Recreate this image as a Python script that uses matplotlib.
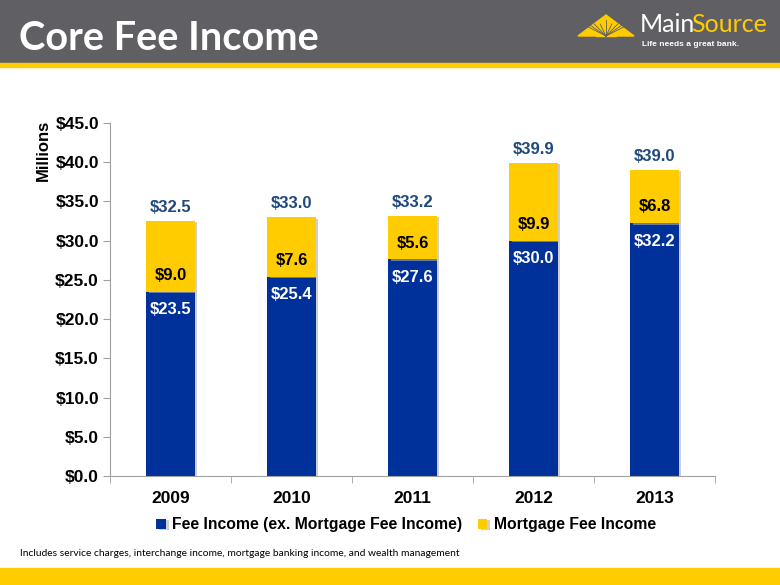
import matplotlib
matplotlib.use('Agg')
import matplotlib.pyplot as plt
import matplotlib.patheffects as pe
from matplotlib.patches import Rectangle, Polygon
import numpy as np

years = ['2009', '2010', '2011', '2012', '2013']
fee_income = [23.5, 25.4, 27.6, 30.0, 32.2]
mortgage_fee = [9.0, 7.6, 5.6, 9.9, 6.8]
totals = [32.5, 33.0, 33.2, 39.9, 39.0]
yticks = [0, 5, 10, 15, 20, 25, 30, 35, 40, 45]

blue = '#00309A'
yellow = '#FFCC00'
navy_txt = '#1F497D'
gray_hdr = '#606064'

fig = plt.figure(figsize=(7.8, 5.85), dpi=100)

# background / slide decoration in pixel coords
bg = fig.add_axes([0, 0, 1, 1], zorder=0)
bg.set_xlim(0, 780)
bg.set_ylim(585, 0)
bg.axis('off')
bg.add_patch(Rectangle((0, 0), 780, 63, color=gray_hdr))
bg.add_patch(Rectangle((0, 63), 780, 4, color=yellow))
bg.add_patch(Rectangle((0, 568), 780, 17, color=yellow))
bg.text(19, 38, 'Core Fee Income', color='white', fontsize=28.6, fontweight='bold',
        family='Lato', va='center', ha='left')

# logo
apex = (606, 15)
left, right = (578, 36), (634, 36)
bg.add_patch(Polygon([left, apex, right], closed=True, color=yellow))
cx = 606
for t in np.linspace(0.08, 0.92, 9):
    px = left[0] + (right[0] - left[0]) * t
    bg.plot([cx, px], [36, 24 if abs(t - 0.5) > 0.1 else 20], color=gray_hdr, lw=0.6)
bg.add_patch(Rectangle((596, 30), 20, 6, color=yellow))
bg.text(640, 25, 'Main', color='white', fontsize=18, family='Lato',
        va='center', ha='left')
bg.text(691, 25, 'Source', color=yellow, fontsize=18, family='Lato',
        va='center', ha='left')
bg.text(642, 45, 'Life needs a great bank.', color='white', fontsize=6, fontweight='bold',
        family='Liberation Sans', va='center', ha='left')

bg.text(20, 553, 'Includes service charges, interchange income, mortgage banking income, and wealth management',
        fontsize=7.4, family='Lato', va='center', ha='left', color='black')

# chart
ax = fig.add_axes([110 / 780, 1 - 476 / 585, 605 / 780, 353 / 585], zorder=1)
ax.patch.set_alpha(0)
x = np.arange(len(years))
shadow = [pe.SimplePatchShadow(offset=(2, -1), shadow_rgbFace='#B0B0B0', alpha=0.6), pe.Normal()]
b1 = ax.bar(x, fee_income, width=0.4, color=blue, label='Fee Income (ex. Mortgage Fee Income)')
b2 = ax.bar(x, mortgage_fee, width=0.4, bottom=fee_income, color=yellow, label='Mortgage Fee Income')
for b in list(b1) + list(b2):
    b.set_path_effects(shadow)

for i in range(len(years)):
    ax.text(x[i], fee_income[i] - 2.3, '$%.1f' % fee_income[i], color='white', fontsize=12,
            fontweight='bold', ha='center', va='center', family='Liberation Sans')
    ax.text(x[i], fee_income[i] + 2.1, '$%.1f' % mortgage_fee[i], color='black', fontsize=12,
            fontweight='bold', ha='center', va='center', family='Liberation Sans')
    ax.text(x[i], totals[i] + 1.7, '$%.1f' % totals[i], color=navy_txt, fontsize=12,
            fontweight='bold', ha='center', va='center', family='Liberation Sans')

ax.set_xlim(-0.5, len(years) - 0.5)
ax.set_ylim(0, 45)
ax.set_yticks(yticks)
ax.set_yticklabels(['$%.1f' % v for v in yticks])
ax.set_xticks(x)
ax.set_xticklabels(years)
ax.set_xticks(np.arange(-0.5, len(years)), minor=True)
ax.tick_params(axis='x', which='major', length=0, pad=11)
ax.tick_params(axis='x', which='minor', length=5, color='#A0A0A0')
ax.tick_params(axis='y', length=5, color='#A0A0A0', pad=3)
for lab in ax.get_xticklabels() + ax.get_yticklabels():
    lab.set_fontweight('bold')
    lab.set_fontsize(12.5)
    lab.set_family('Liberation Sans')
for s in ['top', 'right']:
    ax.spines[s].set_visible(False)
for s in ['left', 'bottom']:
    ax.spines[s].set_color('#A0A0A0')

ax.text(-0.11, 1.008, 'Millions', rotation=90, transform=ax.transAxes, ha='center', va='top',
        fontsize=12, fontweight='bold', family='Liberation Sans')

fig.legend(handles=[b1, b2], loc='center', bbox_to_anchor=(406 / 780, 1 - 525 / 585), ncol=2,
           frameon=False, handlelength=0.6, handleheight=0.6, handletextpad=0.4, columnspacing=1.0,
           prop={'family': 'Liberation Sans', 'weight': 'bold', 'size': 11.3})

fig.savefig('out.png', dpi=100)
